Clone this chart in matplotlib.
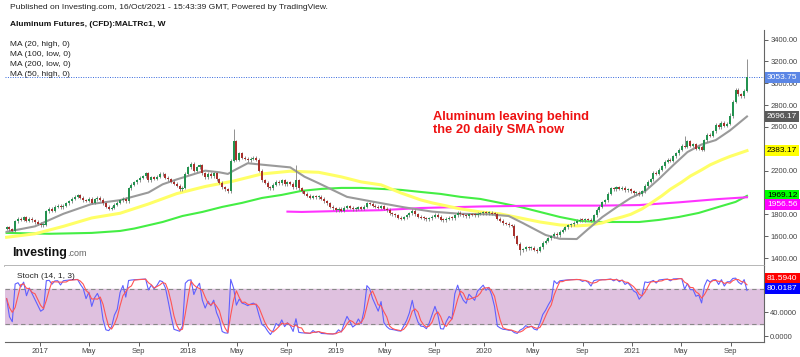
import matplotlib
matplotlib.use("Agg")
import matplotlib.pyplot as plt
import matplotlib.dates as mdates
import matplotlib.transforms as mtransforms
import numpy as np
import pandas as pd

plt.rcParams['font.family'] = ['Liberation Sans', 'DejaVu Sans']

# weekly closes, Oct 2016 -> Oct 2021
start = "2016-10-10"
first_open = 1670
closes = [
    1680, 1665, 1650, 1735, 1760, 1750, 1775, 1740, 1760, 1745,
    1730, 1715, 1700, 1705, 1830, 1850, 1835, 1870, 1880, 1865,
    1880, 1900, 1920, 1945, 1960, 1975, 1950, 1930, 1925, 1945,
    1905, 1940, 1950, 1935, 1900, 1870, 1850, 1860, 1890, 1905,
    1930, 1945, 1920, 2040, 2070, 2095, 2110, 2135, 2150, 2175,
    2110, 2140, 2125, 2145, 2170, 2165, 2135, 2120, 2100, 2080,
    2060, 2030, 2045, 2170, 2230, 2265, 2200, 2230, 2250, 2175,
    2140, 2170, 2150, 2175, 2120, 2090, 2050, 2030, 2010, 2290,
    2470, 2300, 2360, 2320, 2310, 2295, 2310, 2320, 2300, 2200,
    2110, 2090, 2050, 2040, 2070, 2100, 2085, 2110, 2075, 2095,
    2080, 2050, 2110, 2040, 2010, 1990, 1970, 1950, 1965, 1955,
    1960, 1945, 1920, 1900, 1870, 1855, 1840, 1850, 1835, 1860,
    1875, 1860, 1845, 1850, 1865, 1850, 1870, 1900, 1895, 1880,
    1870, 1860, 1875, 1850, 1840, 1810, 1800, 1790, 1770, 1760,
    1775, 1790, 1810, 1835, 1800, 1780, 1770, 1765, 1755, 1765,
    1780, 1795, 1780, 1750, 1745, 1760, 1770, 1765, 1790, 1815,
    1800, 1790, 1785, 1800, 1795, 1790, 1805, 1810, 1815, 1810,
    1815, 1805, 1800, 1760, 1740, 1720, 1715, 1700, 1695, 1600,
    1530, 1470, 1480, 1500, 1490, 1495, 1475, 1465, 1500, 1540,
    1560, 1580, 1600, 1620, 1610, 1640, 1660, 1680, 1700, 1710,
    1725, 1740, 1750, 1745, 1755, 1750, 1740, 1790, 1840, 1870,
    1910, 1930, 1990, 2040, 2030, 2050, 2035, 2045, 2020, 2030,
    2010, 1995, 2000, 1985, 2010, 2060, 2100, 2120, 2180, 2170,
    2210, 2240, 2280, 2300, 2290, 2330, 2360, 2390, 2430, 2420,
    2470, 2430, 2440, 2400, 2420, 2390, 2480, 2530, 2520, 2560,
    2620, 2600, 2640, 2610, 2630, 2700, 2830, 2940, 2900, 2880,
    2930, 3053.75,
]
# notable wicks (week index -> price)
spike_highs = {80: 2580, 102: 2250, 239: 2520, 255: 2730, 261: 3220}
spike_lows = {79: 2000, 181: 1430, 187: 1450}

# moving averages, read at a few weeks along the chart
ma20_wk = [0, 10, 20, 30, 40, 50, 55, 60, 70, 75, 78, 80, 85, 90, 100, 105, 110, 120, 130,
           140, 150, 160, 170, 177, 182, 190, 195, 201, 205, 210, 215, 220, 225, 230, 235,
           240, 245, 250, 255, 261]
ma20_val = [1640, 1690, 1805, 1895, 1930, 2000, 2075, 2120, 2200, 2185, 2170, 2200, 2268, 2255,
            2230, 2145, 2085, 1960, 1912, 1865, 1825, 1805, 1800, 1785, 1720, 1611, 1576, 1574,
            1665, 1775, 1865, 1950, 2010, 2125, 2250, 2370, 2440, 2480, 2568, 2696.17]
ma50_wk = [0, 10, 20, 30, 40, 50, 60, 70, 80, 90, 100, 110, 118, 125, 132, 139, 146, 150, 160,
           167, 174, 181, 188, 195, 201, 206, 210, 213, 217, 220, 224, 227, 231, 234, 238, 241,
           245, 248, 252, 255, 261]
ma50_val = [1590, 1622, 1690, 1767, 1810, 1895, 1990, 2055, 2105, 2170, 2195, 2185, 2143, 2097,
            2070, 1996, 1932, 1905, 1850, 1822, 1804, 1767, 1730, 1703, 1694, 1703, 1722, 1749,
            1776, 1800, 1850, 1900, 1970, 2030, 2095, 2150, 2207, 2253, 2299, 2330, 2383.17]
ma100_wk = [0, 15, 30, 40, 45, 50, 55, 62, 69, 76, 83, 90, 97, 104, 111, 118, 125, 132, 139,
            146, 153, 160, 167, 174, 181, 188, 195, 202, 209, 223, 230, 237, 244, 251, 257, 261]
ma100_val = [1630, 1622, 1630, 1648, 1670, 1700, 1730, 1785, 1822, 1868, 1905, 1950, 1978, 2015,
             2033, 2042, 2042, 2033, 2024, 2005, 1987, 1960, 1941, 1905, 1868, 1822, 1776, 1740,
             1730, 1730, 1749, 1776, 1813, 1868, 1914, 1969.12]
ma200_wk = [99, 104, 118, 132, 146, 167, 188, 209, 223, 237, 251, 261]
ma200_val = [1825, 1822, 1831, 1838, 1858, 1872, 1880, 1880, 1885, 1910, 1940, 1956.56]

ma_names = ["MA (20, high, 0)", "MA (100, low, 0)", "MA (200, low, 0)", "MA (50, high, 0)"]
last_price = 3053.75
stoch_last = [81.5940, 80.0187]

price_ticks = [1400, 1600, 1800, 2000, 2200, 2400, 2600, 2800, 3000, 3200, 3400]
hidden_ticks = [2000, 2400]  # sit under the value boxes
x_ticks = ["2017-01-01", "2017-05-01", "2017-09-01", "2018-01-01", "2018-05-01", "2018-09-01",
           "2019-01-01", "2019-05-01", "2019-09-01", "2020-01-01", "2020-05-01", "2020-09-01",
           "2021-01-01", "2021-05-01", "2021-09-01"]
x_labels = ["2017", "May", "Sep", "2018", "May", "Sep", "2019", "May", "Sep",
            "2020", "May", "Sep", "2021", "May", "Sep"]

# ---- candles
dates = pd.date_range(start, periods=len(closes), freq="7D")
x = mdates.date2num(dates)
x0 = x[0]
c = np.array(closes, dtype=float)
o = np.concatenate([[first_open], c[:-1]])
hi = np.maximum(o, c) + 14
lo = np.minimum(o, c) - 14
for k, v in spike_highs.items():
    hi[k] = v
for k, v in spike_lows.items():
    lo[k] = v

# stochastic (14, 1, 3)
hh = pd.Series(hi).rolling(14, min_periods=1).max()
ll = pd.Series(lo).rolling(14, min_periods=1).min()
stk = 100 * (pd.Series(c) - ll) / (hh - ll)
std = stk.rolling(3, min_periods=1).mean()

fig = plt.figure(figsize=(8, 3.57), dpi=100)
L, W = 5 / 800, 759 / 800
ax = fig.add_axes([L, 1 - 266 / 357, W, 236 / 357])
ax2 = fig.add_axes([L, 1 - 342 / 357, W, 76 / 357], sharex=ax)

up, down, wick = "#23924f", "#a8302c", "#808080"
ax.vlines(x, lo, hi, color=wick, lw=0.6, zorder=3)
body = np.maximum(np.abs(c - o), 9)
ax.bar(x, body, bottom=np.minimum(o, c), width=5.0,
       color=np.where(c >= o, up, down), zorder=4, linewidth=0)

ax.plot(x0 + 7 * np.array(ma100_wk), ma100_val, color="#44ee44", lw=1.5, zorder=2)
ax.plot(x0 + 7 * np.array(ma200_wk), ma200_val, color="#ff33ff", lw=1.5, zorder=2)
ax.plot(x0 + 7 * np.array(ma50_wk), ma50_val, color="#ffff66", lw=2.2, zorder=2)
ax.plot(x0 + 7 * np.array(ma20_wk), ma20_val, color="#9a9a9a", lw=1.5, zorder=2)

ax.axhline(last_price, color="#3366dd", ls=(0, (1, 1.5)), lw=0.7, zorder=1)

xmin = mdates.date2num(pd.Timestamp("2016-10-06"))
xmax = mdates.date2num(pd.Timestamp("2021-11-22"))
ax.set_xlim(xmin, xmax)
ax.set_ylim(1327, 3488)

for a in (ax, ax2):
    for s in ("top", "left"):
        a.spines[s].set_visible(False)
    a.spines["right"].set_color("#666666")
    a.yaxis.tick_right()
    a.tick_params(axis="y", labelsize=5.5, colors="#444444", length=3, width=0.6, pad=1.5)
ax.spines["bottom"].set_color("#aaaaaa")
ax.spines["bottom"].set_linewidth(1.2)
ax.tick_params(axis="x", bottom=False, labelbottom=False)
ax.set_yticks(price_ticks)
ax.set_yticklabels(["" if t in hidden_ticks else f"{t:.2f}" for t in price_ticks])

# price boxes on the right axis
tr = mtransforms.blended_transform_factory(ax.transAxes, ax.transData)
boxes = [(3053.75, "#5b86e5", "white", 0), (2696.17, "#5a5a5a", "white", 0),
         (2383.17, "#ffff00", "black", 0), (1969.12, "#00ff00", "black", 0),
         (1956.56, "#ff00ff", "white", -67)]
for val, fc, tc, shift in boxes:
    ax.text(1.004, val + shift, f"{val:.2f}", transform=tr, ha="left", va="center",
            fontsize=6, color=tc, zorder=10,
            bbox=dict(boxstyle="square,pad=0.25", fc=fc, ec="none"))

# stochastic panel
ax2.axhspan(20, 80, color="#dfc1df", zorder=0)
ax2.axhline(80, color="#888888", ls=(0, (4, 3)), lw=0.8)
ax2.axhline(20, color="#888888", ls=(0, (4, 3)), lw=0.8)
ax2.plot(x, stk, color="#6060ff", lw=0.8)
ax2.plot(x, std, color="#ff5555", lw=0.8)
ax2.set_ylim(-10, 118)
ax2.set_yticks([0, 40])
ax2.yaxis.set_major_formatter(matplotlib.ticker.FormatStrFormatter("%.4f"))
ax2.spines["bottom"].set_color("#666666")
ax2.set_xticks(mdates.date2num(pd.to_datetime(x_ticks)))
ax2.set_xticklabels(x_labels)
ax2.tick_params(axis="x", labelsize=5.5, colors="#444444", length=3, width=0.6, pad=1.5)
tr2 = mtransforms.blended_transform_factory(ax2.transAxes, ax2.transData)
ax2.text(1.004, stoch_last[0] + 16, f"{stoch_last[0]:.4f}", transform=tr2, ha="left", va="center",
         fontsize=6, color="white", bbox=dict(boxstyle="square,pad=0.25", fc="#ff0000", ec="none"))
ax2.text(1.004, stoch_last[1], f"{stoch_last[1]:.4f}", transform=tr2, ha="left", va="center",
         fontsize=6, color="white", bbox=dict(boxstyle="square,pad=0.25", fc="#0000ff", ec="none"))
ax2.text(12 / 759, 1 - 10 / 76, "Stoch (14, 1, 3)", transform=ax2.transAxes, fontsize=6,
         color="#222222", va="center")

# header and notes
fig.text(10 / 800, 1 - 7.5 / 357,
         "Published on Investing.com, 16/Oct/2021 - 15:43:39 GMT, Powered by TradingView.",
         fontsize=6.1, color="#222222", va="center")
fig.text(10 / 800, 1 - 25 / 357, "Aluminum Futures, (CFD):MALTRc1, W",
         fontsize=6, fontweight="bold", color="#111111", va="center")
for i, name in enumerate(ma_names):
    fig.text(10 / 800, 1 - (44 + 10.3 * i) / 357, name, fontsize=6, color="#222222", va="center")

ax.text(mdates.date2num(pd.Timestamp("2019-08-27")), 2630,
        "Aluminum leaving behind\nthe 20 daily SMA now", color="#ee1111", fontsize=9.3,
        fontweight="bold", va="center", ha="left", linespacing=1.15)

fig.text(12 / 800, 1 - 253 / 357, "Investing", fontsize=9, fontweight="bold", color="#111111",
         va="center")
fig.text(67 / 800, 1 - 254 / 357, ".com", fontsize=6.5, color="#666666", va="center")

plt.savefig("out.png", dpi=100)
